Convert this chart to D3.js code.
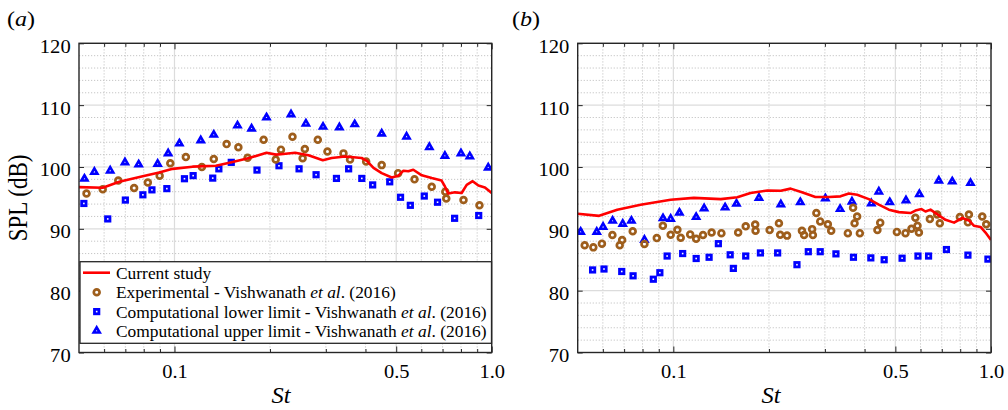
<!DOCTYPE html>
<html>
<head>
<meta charset="utf-8">
<script src="https://cdn.jsdelivr.net/npm/d3@7"></script>
<style>
  body { margin: 0; background: #fff; }
  svg { display: block; }
  text { font-family: "Liberation Serif", "Times New Roman", serif; fill: #000; }
</style>
</head>
<body>
<svg id="chart" width="1008" height="410"></svg>
<script>
// ---- Panel (a): [St, SPL dB] ----
const currentA = [[0.05,96.75],[0.0594,96.65],[0.067,97.6],[0.0794,98.5],[0.0895,99.1],[0.0987,99.7],[0.114,100.05],[0.135,100.2],[0.149,100.7],[0.172,101.45],[0.195,102.3],[0.209,102.0],[0.224,102.15],[0.240,102.3],[0.2645,101.9],[0.2935,101.1],[0.313,101.45],[0.345,101.7],[0.389,101.45],[0.404,101.0],[0.424,99.85],[0.450,99.0],[0.484,98.3],[0.508,98.6],[0.527,99.4],[0.546,99.3],[0.566,99.55],[0.602,98.65],[0.647,98.2],[0.695,97.8],[0.712,96.85],[0.730,95.7],[0.766,95.9],[0.804,95.8],[0.834,97.1],[0.871,97.7],[0.908,97.0],[0.952,96.7],[1.0,95.8]];
const experimentalA = [[0.0528,95.7],[0.0594,96.4],[0.0665,97.8],[0.0746,96.6],[0.0824,97.5],[0.0898,98.6],[0.097,100.6],[0.1086,101.6],[0.122,100.0],[0.133,101.3],[0.146,103.7],[0.159,103.2],[0.170,101.5],[0.191,104.4],[0.2085,101.2],[0.2166,102.8],[0.2355,104.9],[0.2535,101.4],[0.2576,102.9],[0.283,104.4],[0.3035,102.5],[0.341,102.2],[0.3576,101.2],[0.402,100.9],[0.450,100.3],[0.507,99.0],[0.571,98.0],[0.647,96.8],[0.714,96.0],[0.719,94.9],[0.815,94.65],[0.915,93.8]];
const lowerA = [[0.0518,94.1],[0.0616,91.6],[0.0700,94.65],[0.0795,95.5],[0.0849,96.3],[0.0946,96.5],[0.1075,98.1],[0.1145,98.6],[0.132,98.2],[0.138,99.7],[0.151,100.75],[0.182,99.5],[0.2135,100.2],[0.247,99.7],[0.2795,98.75],[0.324,98.15],[0.354,99.7],[0.3895,98.15],[0.4215,97.1],[0.477,97.6],[0.516,95.1],[0.554,93.8],[0.613,95.3],[0.675,94.3],[0.764,91.7],[0.91,92.15]];
const upperA = [[0.052,98.1],[0.0559,99.2],[0.0627,99.4],[0.0698,100.75],[0.0771,100.4],[0.0885,100.5],[0.0955,102.2],[0.1036,103.8],[0.121,104.3],[0.133,105.2],[0.158,106.7],[0.175,106.2],[0.195,108.0],[0.233,108.5],[0.2596,107.0],[0.294,106.5],[0.331,106.4],[0.370,106.9],[0.450,105.4],[0.539,104.9],[0.636,103.2],[0.712,101.8],[0.80,102.2],[0.853,101.7],[0.975,99.9]];

// ---- Panel (b): [St, SPL dB] ----
const currentB = [[0.05,92.45],[0.0584,92.1],[0.0666,93.1],[0.0789,93.9],[0.0981,94.7],[0.116,95.0],[0.141,94.8],[0.159,95.1],[0.175,95.8],[0.198,96.2],[0.218,96.15],[0.234,96.5],[0.254,95.9],[0.280,95.15],[0.309,95.15],[0.336,95.25],[0.357,95.7],[0.379,95.5],[0.4125,94.8],[0.4435,93.9],[0.477,93.1],[0.513,92.7],[0.558,92.55],[0.578,92.95],[0.604,93.2],[0.622,92.8],[0.645,93.1],[0.669,92.55],[0.719,91.45],[0.765,91.0],[0.8115,91.75],[0.852,91.35],[0.883,90.5],[0.927,90.3],[0.961,89.4],[1.0,88.2]];
const experimentalB = [[0.0526,87.35],[0.056,87.0],[0.0596,87.6],[0.0643,89.0],[0.0678,87.35],[0.069,88.2],[0.0745,89.6],[0.0811,87.55],[0.0887,88.5],[0.0927,90.5],[0.0981,89.05],[0.103,89.85],[0.1055,88.55],[0.113,89.1],[0.118,88.4],[0.124,89.0],[0.132,89.4],[0.1417,89.3],[0.160,89.4],[0.169,90.4],[0.181,90.7],[0.1815,89.7],[0.201,89.8],[0.215,90.9],[0.217,89.05],[0.228,88.9],[0.254,89.7],[0.258,89.0],[0.2735,89.95],[0.275,89.0],[0.282,92.55],[0.290,91.2],[0.3065,90.75],[0.314,89.7],[0.3543,89.3],[0.368,93.4],[0.372,90.9],[0.379,92.0],[0.3865,89.3],[0.439,89.8],[0.448,91.0],[0.5055,89.5],[0.538,89.3],[0.562,90.0],[0.578,91.8],[0.587,90.5],[0.593,89.4],[0.642,91.6],[0.677,92.3],[0.690,90.9],[0.798,91.9],[0.852,92.3],[0.846,91.05],[0.9385,92.0],[0.966,90.75]];
const lowerB = [[0.0557,83.35],[0.0605,83.5],[0.0688,83.1],[0.0747,82.4],[0.0865,81.85],[0.0907,82.9],[0.0956,85.6],[0.107,86.0],[0.118,85.2],[0.1296,85.4],[0.1386,87.6],[0.151,85.8],[0.1545,83.6],[0.169,85.6],[0.188,86.1],[0.213,86.1],[0.245,84.2],[0.266,86.3],[0.290,86.3],[0.325,85.95],[0.369,85.4],[0.4185,85.3],[0.461,85.0],[0.525,85.25],[0.589,85.6],[0.636,85.6],[0.724,86.65],[0.846,85.75],[0.978,85.1]];
const upperB = [[0.0511,89.5],[0.0574,89.5],[0.0601,90.3],[0.0644,91.3],[0.0693,90.8],[0.0738,91.3],[0.0811,88.2],[0.0928,91.7],[0.0981,91.6],[0.1045,92.6],[0.118,91.9],[0.125,93.3],[0.1455,93.45],[0.158,94.05],[0.186,95.0],[0.218,93.95],[0.251,94.3],[0.301,94.9],[0.335,93.2],[0.365,94.4],[0.420,94.1],[0.4435,96.0],[0.48,94.3],[0.540,94.6],[0.595,95.6],[0.685,97.8],[0.755,97.65],[0.862,97.4]];

// ---- Axes ----
const stDomain = [0.05, 1.0];
const splDomain = [70, 120];
const yTicks = [70, 80, 90, 100, 110, 120];
const xTicks = [0.1, 0.5, 1.0];
const xTickLabels = ["0.1", "0.5", "1.0"];
const xMinor = [0.06, 0.07, 0.08, 0.09, 0.2, 0.3, 0.4, 0.6, 0.7, 0.8, 0.9];
const yMinor = d3.range(72, 120, 2).filter(v => v % 10 !== 0);

const legendLabels = [
  ["Current study"],
  ["Experimental - Vishwanath ", "et al", ". (2016)"],
  ["Computational lower limit - Vishwanath ", "et al", ". (2016)"],
  ["Computational upper limit - Vishwanath ", "et al", ". (2016)"]
];

const RED = "#ff0000", BROWN = "#9e5e1c", BLUE = "#0000ff", AXIS = "#262626";
const TOP = 43.3, BOTTOM = 352.5;

const svg = d3.select("#chart");

const panels = [
  { tag: "a", left: 79, right: 491.7, tagX: 7, stX: 281, current: currentA, exp: experimentalA, low: lowerA, up: upperA, legend: true },
  { tag: "b", left: 577.7, right: 991, tagX: 512, stX: 771, current: currentB, exp: experimentalB, low: lowerB, up: upperB, legend: false }
];

function drawCircle(g, cx, cy) {
  g.append("circle").attr("cx", cx).attr("cy", cy).attr("r", 2.9)
    .attr("fill", "none").attr("stroke", BROWN).attr("stroke-width", 2.7);
}
function drawSquare(g, cx, cy) {
  const s = 4.4;
  g.append("rect").attr("x", cx - s / 2).attr("y", cy - s / 2).attr("width", s).attr("height", s)
    .attr("fill", "#fff").attr("stroke", BLUE).attr("stroke-width", 2.8);
}
function drawTriangle(g, cx, cy) {
  const r = 1.75, half = r * Math.sqrt(3);
  g.append("path")
    .attr("d", `M${cx},${cy - 2 * r}L${cx + half},${cy + r}L${cx - half},${cy + r}Z`)
    .attr("fill", "#fff").attr("stroke", BLUE).attr("stroke-width", 2.6)
    .attr("stroke-linejoin", "miter");
}

panels.forEach((p, i) => {
  const x = d3.scaleLog().domain(stDomain).range([p.left, p.right]);
  const y = d3.scaleLinear().domain(splDomain).range([BOTTOM, TOP]);
  const g = svg.append("g");

  // background grid: dotted minor, solid major
  const grid = g.append("g");
  grid.selectAll(".gxm").data(xMinor).join("line")
    .attr("x1", d => x(d)).attr("x2", d => x(d)).attr("y1", TOP).attr("y2", BOTTOM)
    .attr("stroke", "#b8b8b8").attr("stroke-width", 0.8).attr("stroke-dasharray", "1.2,1.8");
  grid.selectAll(".gym").data(yMinor).join("line")
    .attr("x1", p.left).attr("x2", p.right).attr("y1", d => y(d)).attr("y2", d => y(d))
    .attr("stroke", "#b8b8b8").attr("stroke-width", 0.8).attr("stroke-dasharray", "1.2,1.8");
  grid.selectAll(".gxM").data(xTicks).join("line")
    .attr("x1", d => x(d)).attr("x2", d => x(d)).attr("y1", TOP).attr("y2", BOTTOM)
    .attr("stroke", "#dcdcdc").attr("stroke-width", 1.2);
  grid.selectAll(".gyM").data(yTicks).join("line")
    .attr("x1", p.left).attr("x2", p.right).attr("y1", d => y(d)).attr("y2", d => y(d))
    .attr("stroke", "#dcdcdc").attr("stroke-width", 1.2);

  // axes with inward ticks
  const styleAxis = sel => {
    sel.select(".domain").remove();
    sel.selectAll(".tick line").attr("stroke", AXIS).attr("stroke-width", 1);
    sel.selectAll(".tick text").style("font-size", "19.5px").attr("fill", "#000")
      .attr("lengthAdjust", "spacingAndGlyphs");
  };
  g.append("g").attr("transform", `translate(${p.left},0)`)
    .call(d3.axisLeft(y).tickValues(yTicks).tickSize(-5).tickPadding(8.3))
    .call(styleAxis)
    .call(s => s.selectAll(".tick text").attr("dy", "0.46em")
      .attr("textLength", function () { return this.textContent.length * 10.3; }));
  g.append("g").attr("transform", `translate(${p.right},0)`)
    .call(d3.axisRight(y).tickValues(yTicks).tickSize(-5).tickFormat(""))
    .call(styleAxis);
  g.append("g").attr("transform", `translate(0,${BOTTOM})`)
    .call(d3.axisBottom(x).tickValues(xTicks).tickSize(-6).tickPadding(12)
      .tickFormat((d, k) => xTickLabels[k]))
    .call(styleAxis)
    .call(s => s.selectAll(".tick text").attr("textLength", 25.6));
  g.append("g").attr("transform", `translate(0,${BOTTOM})`)
    .call(d3.axisBottom(x).tickValues(xMinor).tickSize(-3.5).tickFormat(""))
    .call(styleAxis);
  g.append("g").attr("transform", `translate(0,${TOP})`)
    .call(d3.axisTop(x).tickValues(xTicks).tickSize(-6).tickFormat(""))
    .call(styleAxis);
  g.append("g").attr("transform", `translate(0,${TOP})`)
    .call(d3.axisTop(x).tickValues(xMinor).tickSize(-3.5).tickFormat(""))
    .call(styleAxis);

  // data
  const clipId = "clip" + p.tag;
  svg.append("clipPath").attr("id", clipId).append("rect")
    .attr("x", p.left).attr("y", TOP).attr("width", p.right - p.left).attr("height", BOTTOM - TOP);
  const data = g.append("g").attr("clip-path", `url(#${clipId})`);
  p.up.forEach(d => drawTriangle(data, x(d[0]), y(d[1])));
  p.low.forEach(d => drawSquare(data, x(d[0]), y(d[1])));
  p.exp.forEach(d => drawCircle(data, x(d[0]), y(d[1])));
  data.append("path").datum(p.current)
    .attr("d", d3.line().x(d => x(d[0])).y(d => y(d[1])))
    .attr("fill", "none").attr("stroke", RED).attr("stroke-width", 2.6)
    .attr("stroke-linejoin", "round");

  // frame
  g.append("rect").attr("x", p.left).attr("y", TOP)
    .attr("width", p.right - p.left).attr("height", BOTTOM - TOP)
    .attr("fill", "none").attr("stroke", AXIS).attr("stroke-width", 1.4);

  // axis titles
  g.append("text").attr("x", p.stX).attr("y", 403).attr("text-anchor", "middle")
    .style("font-size", "23px").style("font-style", "italic")
    .attr("textLength", 19).attr("lengthAdjust", "spacingAndGlyphs").text("St");
  const tag = g.append("text").attr("x", p.tagX).attr("y", 26).style("font-size", "22px")
    .attr("textLength", 28).attr("lengthAdjust", "spacingAndGlyphs");
  tag.append("tspan").text("(");
  tag.append("tspan").style("font-style", "italic").text(p.tag);
  tag.append("tspan").text(")");

  if (i === 0) {
    g.append("text")
      .attr("transform", `translate(27,${(TOP + BOTTOM) / 2}) scale(1.18,1) rotate(-90)`)
      .attr("text-anchor", "middle").style("font-size", "23px").text("SPL (dB)");
  }

  // legend
  if (p.legend) {
    const lg = g.append("g");
    lg.append("rect").attr("x", 80).attr("y", 261.7).attr("width", 411.5).attr("height", 81.6)
      .attr("fill", "#fff").attr("stroke", AXIS).attr("stroke-width", 1.3);
    const rows = [272.7, 292.2, 311.6, 330.8];
    lg.append("line").attr("x1", 83).attr("x2", 110).attr("y1", rows[0]).attr("y2", rows[0])
      .attr("stroke", RED).attr("stroke-width", 2.6);
    drawCircle(lg, 96.7, rows[1]);
    drawSquare(lg, 96.7, rows[2]);
    drawTriangle(lg, 96.7, rows[3]);
    legendLabels.forEach((parts, k) => {
      const t = lg.append("text").attr("x", 116).attr("y", rows[k] + 6).style("font-size", "17.4px");
      parts.forEach((s, j) => t.append("tspan").style("font-style", j === 1 ? "italic" : "normal").text(s));
    });
  }
});
</script>
</body>
</html>
